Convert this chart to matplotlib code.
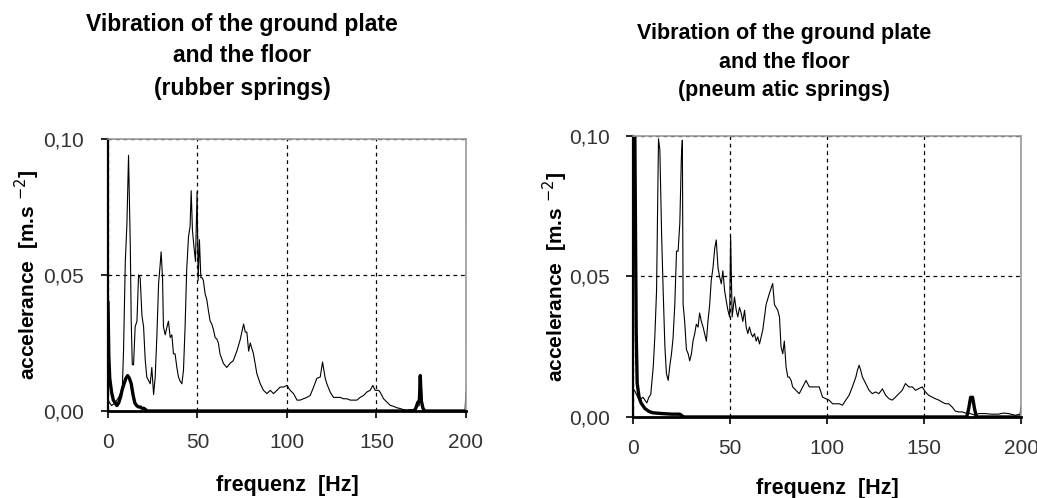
import matplotlib
matplotlib.use("Agg")
import matplotlib.pyplot as plt
from matplotlib.ticker import FuncFormatter

# --- rubber springs: ground plate (thin) ---
rubber_plate_f = [
    0, 2, 4, 6, 8, 8.7, 9.7, 10.6, 11.5, 12.5,
    13, 13.6, 14.3, 15.2, 16.2, 17.1, 18, 19, 19.9, 20.8,
    21.7, 23.6, 24.5, 25.5, 26.4, 27.3, 28.3, 29.2, 29.7, 30.5,
    31, 32, 33, 33.8, 34.8, 35.7, 36.6, 37.5, 38.5, 39.4,
    40.3, 41.3, 42.2, 43.1, 44, 45, 45.9, 46.5, 47.2, 48.1,
    48.9, 49.8, 50.4, 51.1, 51.9, 52.6, 53.3, 54.3, 55.2, 56.1,
    57.1, 58, 58.9, 59.9, 60.8, 61.7, 62.6, 64.5, 66.4, 68.2,
    70, 72, 73.8, 75.8, 76.7, 77.6, 78.6, 79.5, 81.3, 83.2,
    85.1, 86.9, 88.8, 90.7, 92.5, 94.4, 96.2, 98.1, 100, 101.8,
    103.7, 105.6, 107.4, 109.3, 111.1, 113, 114.9, 116.7, 118.6, 119.9,
    121.4, 122.3, 124.2, 126, 127.9, 129.8, 131.6, 133.5, 135.4, 137.2,
    139.1, 140.9, 142.8, 144.7, 146.5, 148, 149.3, 151.2, 152.1, 154,
    155.8, 157.7, 159.6, 161.4, 163.3, 165.1, 167, 168.9, 170.7, 172.6,
    173.9, 174.8, 175.9, 180, 190, 199.5, 200,
]
rubber_plate_a = [
    0.004, 0.002, 0.003, 0.005, 0.008, 0.022, 0.055, 0.069, 0.094, 0.060,
    0.033, 0.017, 0.017, 0.031, 0.033, 0.050, 0.049, 0.035, 0.031, 0.019,
    0.0125, 0.010, 0.016, 0.006, 0.0125, 0.027, 0.047, 0.054, 0.0585, 0.049,
    0.031, 0.028, 0.031, 0.033, 0.027, 0.028, 0.021, 0.021, 0.016, 0.0125,
    0.011, 0.010, 0.015, 0.031, 0.052, 0.064, 0.068, 0.081, 0.0665, 0.060,
    0.055, 0.0806, 0.048, 0.063, 0.049, 0.049, 0.048, 0.043, 0.041, 0.037,
    0.033, 0.032, 0.030, 0.027, 0.0265, 0.025, 0.021, 0.0175, 0.016, 0.0175,
    0.0185, 0.022, 0.026, 0.032, 0.029, 0.029, 0.022, 0.025, 0.021, 0.0137,
    0.010, 0.0076, 0.0064, 0.0076, 0.0064, 0.0076, 0.0088, 0.0088, 0.0094, 0.0076,
    0.0064, 0.004, 0.004, 0.0045, 0.005, 0.0057, 0.0088, 0.012, 0.0125, 0.018,
    0.012, 0.010, 0.0069, 0.005, 0.005, 0.005, 0.0045, 0.0045, 0.004, 0.004,
    0.004, 0.005, 0.0057, 0.007, 0.0076, 0.0094, 0.0076, 0.0076, 0.0069, 0.0045,
    0.0033, 0.0021, 0.0017, 0.0012, 0.0009, 0.0005, 0.0002, 0.0005, 0.0005, 0.0015,
    0.002, 0.013, 0.0002, 0, 0, 0, 0.007,
]

# --- rubber springs: floor (thick) ---
rubber_floor_f = [0, 0.5, 1, 2, 3, 4, 5, 6, 7, 8, 9, 10, 11, 12, 13, 14, 15, 16,
                  17, 18, 19, 20, 21, 22, 171, 172, 173, 174, 174.5, 175, 176, 177, 200]
rubber_floor_a = [0.040, 0.020, 0.012, 0.007, 0.004, 0.003, 0.002, 0.003, 0.005,
                  0.008, 0.010, 0.012, 0.013, 0.012, 0.010, 0.006, 0.003, 0.002,
                  0.0015, 0.0015, 0.001, 0.001, 0.0005, 0, 0, 0.001, 0.003, 0.004,
                  0.013, 0.004, 0.001, 0, 0]

# --- pneumatic springs: ground plate (thin) ---
pneu_plate_f = [
    0, 1, 3, 5, 7, 8, 9, 10.3, 11.1, 12,
    12.5, 13, 13.7, 14.6, 15.4, 16.3, 17.1, 18, 18.8, 19.7,
    20.5, 21.4, 22.3, 23.1, 24, 24.8, 25.3, 25.7, 26.5, 27.4,
    28.3, 29.1, 30, 30.8, 31.7, 32.5, 33.4, 34.2, 35.1, 36,
    36.8, 37.7, 38.5, 39.4, 40.2, 41.1, 42, 42.8, 43.7, 44.5,
    45.4, 46.2, 47.1, 47.9, 48.8, 49.7, 50.2, 51, 52.2, 53.1,
    53.9, 54.8, 55.7, 56.5, 57.4, 58.2, 59.1, 59.9, 60.8, 61.6,
    62.5, 63.4, 64.2, 65.1, 66.8, 68.5, 70.2, 71.9, 72.8, 74.5,
    75.4, 76.2, 77.1, 77.9, 78.8, 79.7, 80.5, 81.4, 82.2, 83.9,
    85.6, 87.4, 89.1, 90.8, 92.5, 94.2, 95.9, 97.6, 99.3, 101,
    102.8, 104.5, 106.2, 107.9, 109.6, 111.3, 113, 114.8, 115.6, 116.5,
    117.3, 118.2, 119.9, 121.6, 123.3, 125, 126.7, 128.5, 130.2, 131.9,
    133.6, 135.3, 137, 138.7, 140.4, 142.1, 143.9, 145.6, 147.3, 149,
    150.7, 152.4, 154.1, 155.8, 157.6, 159.3, 161, 162.7, 164.4, 166.1,
    167.8, 169.6, 171.3, 173, 176.4, 178.1, 181.5, 184.9, 188.4, 191,
    193.6, 197, 199.5, 200,
]
pneu_plate_a = [
    0.010, 0.009, 0.006, 0.007, 0.005, 0.007, 0.008, 0.018, 0.0285, 0.045,
    0.071, 0.099, 0.095, 0.065, 0.045, 0.025, 0.0154, 0.013, 0.018, 0.0225,
    0.028, 0.040, 0.059, 0.059, 0.069, 0.0925, 0.0985, 0.040, 0.034, 0.024,
    0.0225, 0.020, 0.0225, 0.027, 0.0297, 0.033, 0.032, 0.037, 0.034, 0.032,
    0.0297, 0.027, 0.034, 0.040, 0.0486, 0.053, 0.060, 0.063, 0.053, 0.050,
    0.0474, 0.052, 0.045, 0.0415, 0.038, 0.0356, 0.064, 0.0356, 0.0427, 0.038,
    0.0356, 0.039, 0.0368, 0.034, 0.038, 0.032, 0.0297, 0.032, 0.0297, 0.0285,
    0.0297, 0.027, 0.0285, 0.026, 0.031, 0.040, 0.044, 0.0475, 0.040, 0.038,
    0.0356, 0.025, 0.0225, 0.027, 0.0178, 0.0142, 0.0142, 0.013, 0.0107, 0.0095,
    0.0083, 0.0107, 0.013, 0.0107, 0.0107, 0.0107, 0.0107, 0.0071, 0.0065, 0.006,
    0.0047, 0.0047, 0.0047, 0.0042, 0.006, 0.0077, 0.0107, 0.0142, 0.0166, 0.0184,
    0.0166, 0.0142, 0.0119, 0.0095, 0.0083, 0.0089, 0.0083, 0.010, 0.0077, 0.0065,
    0.006, 0.0071, 0.0083, 0.0095, 0.0119, 0.0107, 0.0107, 0.0095, 0.0101, 0.0107,
    0.0089, 0.0077, 0.0071, 0.0065, 0.006, 0.0053, 0.0047, 0.0047, 0.0036, 0.0021,
    0.0018, 0.0018, 0.0014, 0.0014, 0.0006, 0.0012, 0.0012, 0.001, 0.001, 0.0014,
    0.0012, 0.0006, 0.001, 0.004,
]

# --- pneumatic springs: floor (thick) ---
pneu_floor_f = [0, 0.7, 1.5, 2, 3, 4, 5, 6, 8, 10, 15, 20, 24, 25, 26,
                172, 173, 174, 175, 176, 177, 200]
pneu_floor_a = [0.12, 0.11, 0.03, 0.012, 0.007, 0.005, 0.004, 0.003, 0.002,
                0.0015, 0.0012, 0.001, 0.001, 0.0005, 0,
                0, 0.003, 0.007, 0.007, 0.003, 0, 0]

x_ticks = [0, 50, 100, 150, 200]
y_ticks = [0.0, 0.05, 0.10]

titles = [
    "Vibration of the ground plate\nand the floor\n(rubber springs)",
    "Vibration of the ground plate\nand the floor\n(pneum atic springs)",
]

plt.rcParams['font.family'] = ['Liberation Sans', 'DejaVu Sans']

W, H = 1037, 498
fig = plt.figure(figsize=(W / 100, H / 100), dpi=100)
ax_l = fig.add_axes([0.1041, 0.1747, 0.3452, 0.5462])
ax_r = fig.add_axes([0.6107, 0.1627, 0.3739, 0.5643])

ax_l.plot(rubber_plate_f, rubber_plate_a, color="black", linewidth=0.8)
ax_l.plot(rubber_floor_f, rubber_floor_a, color="black", linewidth=2.4)
ax_r.plot(pneu_plate_f, pneu_plate_a, color="black", linewidth=0.8)
ax_r.plot(pneu_floor_f, pneu_floor_a, color="black", linewidth=2.4)

# axis styling; label positions in pixels (ylabel x, xlabel y)
for ax, ylab_x, xlab_y in [(ax_l, 27, 485), (ax_r, 555, 488)]:
    ax.set_xlim(0, 200)
    ax.set_ylim(0, 0.10)
    ax.set_xticks(x_ticks)
    ax.set_yticks(y_ticks)
    ax.yaxis.set_major_formatter(FuncFormatter(lambda v, p: f"{v:.2f}".replace(".", ",")))
    ax.grid(True, color="black", linestyle=(0, (3, 3)), linewidth=0.9)
    ax.set_axisbelow(True)
    for side in ["top", "right"]:
        ax.spines[side].set_color("#9a9a9a")
        ax.spines[side].set_linewidth(1.2)
    ax.spines["left"].set_linewidth(1.6)
    ax.spines["bottom"].set_linewidth(2.0)
    ax.tick_params(direction="out", length=5, width=1.2, labelsize=15,
                   colors="black", labelcolor="#333333")
    ax.tick_params(axis="x", pad=11)
    ax.tick_params(axis="y", pad=12)
    ax.set_xlabel("frequenz  [Hz]", fontsize=15.5, fontweight="bold")
    ax.set_ylabel(r"accelerance  [m.s $^{-2}$]", fontsize=15, fontweight="bold")
    pos = ax.get_position()
    ax.yaxis.set_label_coords(ylab_x / W, pos.y0 + pos.height / 2, transform=fig.transFigure)
    ax.xaxis.set_label_coords(pos.x0 + pos.width / 2, 1 - xlab_y / H, transform=fig.transFigure)
    ax.xaxis.label.set_va("center")
    ax.yaxis.label.set_va("center")

fig.text(242 / W, 1 - 56 / H, titles[0], ha="center", va="center",
         fontsize=16.5, fontweight="bold", linespacing=1.5)
fig.text(784 / W, 1 - 62 / H, titles[1], ha="center", va="center",
         fontsize=15.5, fontweight="bold", linespacing=1.45)

fig.savefig("out.png", dpi=100)
